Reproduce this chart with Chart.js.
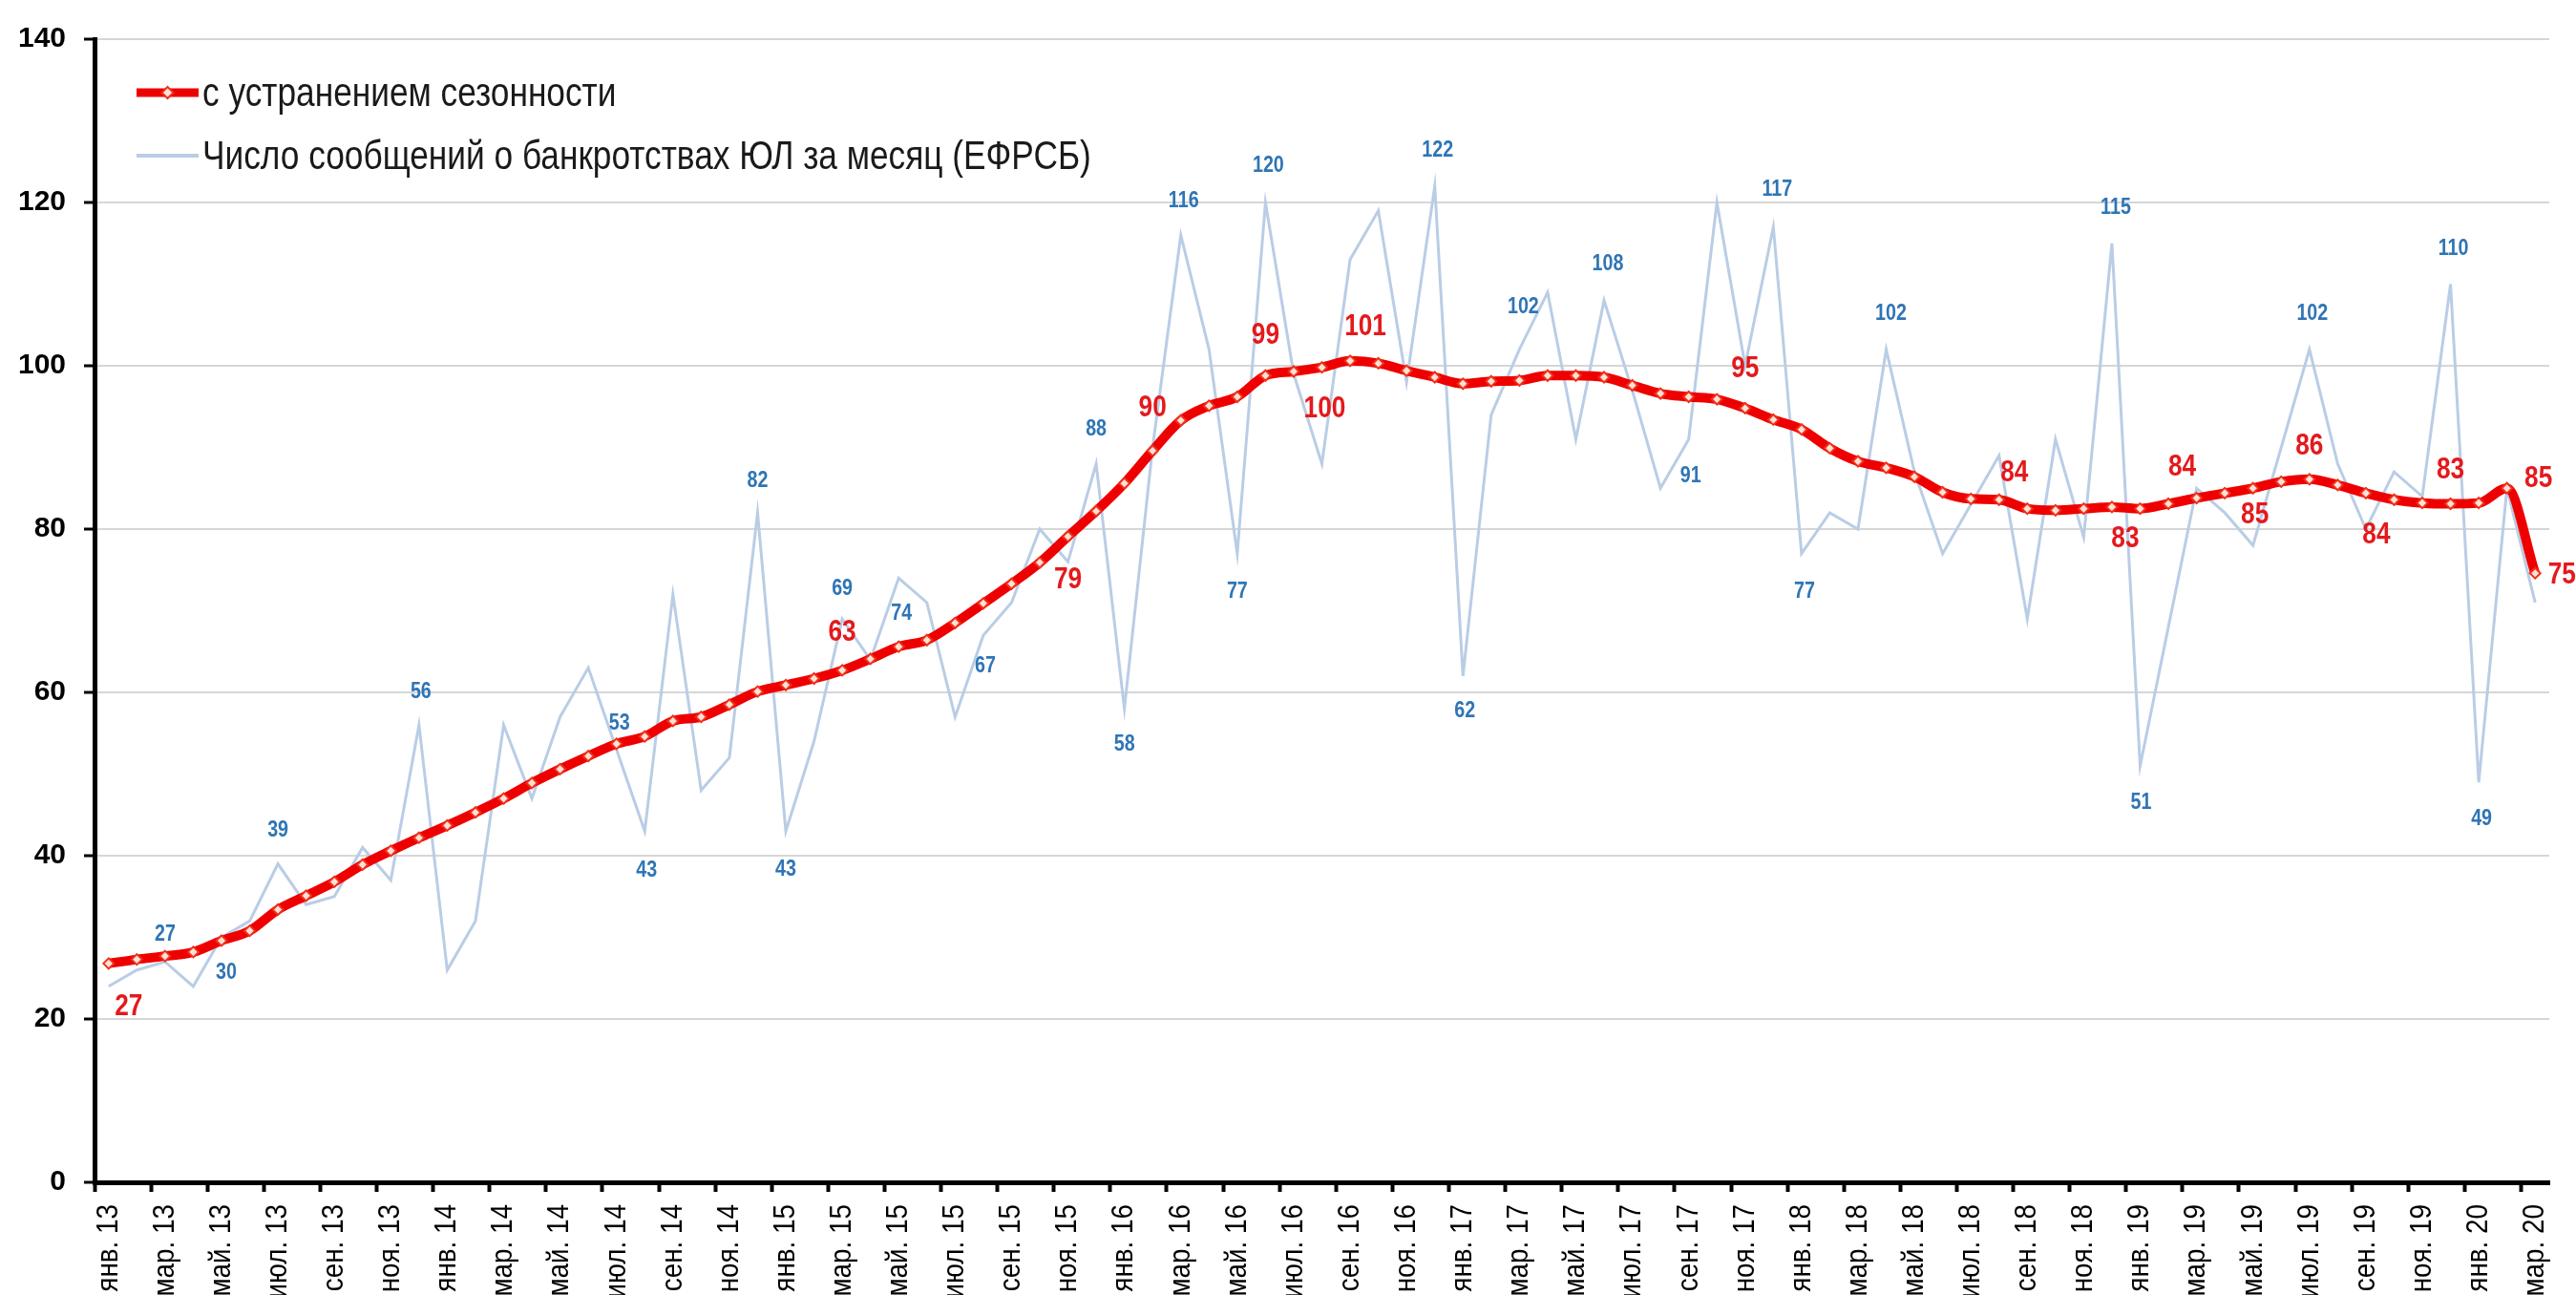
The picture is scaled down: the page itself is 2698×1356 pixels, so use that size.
<!DOCTYPE html>
<html>
<head>
<meta charset="utf-8">
<script src="https://cdn.jsdelivr.net/npm/chart.js@4.4.1/dist/chart.umd.min.js"></script>
<style>
  html, body { margin: 0; padding: 0; background: #fff; overflow: hidden; }
</style>
</head>
<body>
<canvas id="chart" width="2698" height="1356"></canvas>
<script>
// month labels, Jan 2013 .. Mar 2020
var monthNames = ['янв.', 'фев.', 'мар.', 'апр.', 'май.', 'июн.', 'июл.', 'авг.', 'сен.', 'окт.', 'ноя.', 'дек.'];
var years = ['13', '14', '15', '16', '17', '18', '19', '20'];
var monthCount = 87;

var seriesNames = [
    'с устранением сезонности',
    'Число сообщений о банкротствах ЮЛ за месяц (ЕФРСБ)'
];

// seasonally adjusted series
var adjusted = [
    26.8, 27.3, 27.7, 28.2, 29.6, 30.8, 33.4, 35.1, 36.8, 38.9, 40.6, 42.2,
    43.7, 45.3, 47.0, 48.9, 50.6, 52.2, 53.7, 54.6, 56.5, 57.0, 58.5, 60.1,
    60.9, 61.7, 62.7, 64.1, 65.6, 66.4, 68.5, 70.9, 73.3, 75.9, 79.1, 82.2,
    85.6, 89.6, 93.3, 95.1, 96.2, 98.8, 99.3, 99.8, 100.6, 100.3, 99.4, 98.6,
    97.8, 98.1, 98.2, 98.8, 98.8, 98.6, 97.6, 96.6, 96.2, 95.9, 94.8, 93.4,
    92.2, 89.9, 88.3, 87.5, 86.4, 84.5, 83.7, 83.6, 82.5, 82.3, 82.5, 82.7,
    82.5, 83.1, 83.8, 84.4, 85.0, 85.8, 86.1, 85.4, 84.4, 83.6, 83.2, 83.1,
    83.2, 85.0, 74.6
];

// raw monthly count
var monthly = [
    24, 26, 27, 24, 30, 32, 39, 34, 35, 41, 37, 56,
    26, 32, 56, 47, 57, 63, 53, 43, 72, 48, 52, 82,
    43, 54, 69, 64, 74, 71, 57, 67, 71, 80, 76, 88,
    58, 90, 116, 102, 77, 120, 99, 88, 113, 119, 98, 122,
    62, 94, 102, 109, 91, 108, 97, 85, 91, 120, 100, 117,
    77, 82, 80, 102, 87, 77, 83, 89, 69, 91, 79, 115,
    51, 68, 85, 82, 78, 90, 102, 88, 80, 87, 84, 110,
    49, 85, 71
];

// which points carry a value label: [index, dx, dy]
var adjustedLabels = [
    [0, 21, 45], [26, 0, -40], [34, 0, 45], [37, 0, -45], [41, 0, -42], [43, 3, 43],
    [44, 16, -36], [58, 0, -41], [67, 16, -28], [71, 14, 33], [74, -15, -32], [76, 2, 28],
    [78, 0, -35], [80, 11, 44], [83, 0, -35], [85, 33, -10], [86, 28, 2]
];
var monthlyLabels = [
    [2, 0, -29], [4, 5, 37], [6, 0, -35], [11, 2, -35], [18, 3, -27], [19, 2, 41],
    [23, 0, -34], [24, 0, 40], [26, 0, -32], [28, 3, 37], [31, 2, 32], [35, 0, -36],
    [36, 0, 37], [38, 3, -36], [40, 0, 40], [41, 3, -39], [47, 3, -38], [48, 2, 36],
    [50, 4, -45], [53, 4, -38], [56, 2, 38], [59, 4, -39], [60, 3, 40], [63, 5, -38],
    [71, 4, -37], [72, 1, 38], [78, 3, -38], [83, 3, -37], [84, 3, 38]
];

var categories = [];
for (var y = 0; y < years.length; y++) {
    for (var m = 0; m < 12 && categories.length < monthCount; m++) {
        categories.push(monthNames[m] + ' ' + years[y]);
    }
}

var RED = '#ee0000';
var BLUE_LINE = '#b9cde5';
var FONT = '"Liberation Sans", Arial, sans-serif';
var NARROW = 0.82;  // no Arial Narrow here, squeeze Liberation Sans instead

// text squeezed horizontally to look like a narrow face
function narrowText(ctx, text, x, y) {
    ctx.save();
    ctx.translate(x, y);
    ctx.scale(NARROW, 1);
    ctx.fillText(text, 0, 0);
    ctx.restore();
}

// Draw the value labels next to chosen points
var valueLabels = {
    id: 'valueLabels',
    afterDatasetsDraw: function(chart) {
        var ctx = chart.ctx;
        var sets = [
            { meta: chart.getDatasetMeta(1), data: monthly, list: monthlyLabels, font: 'bold 24px ' + FONT, color: '#2f75b5' },
            { meta: chart.getDatasetMeta(0), data: adjusted, list: adjustedLabels, font: 'bold 32px ' + FONT, color: '#e4191c' }
        ];
        ctx.save();
        ctx.textAlign = 'center';
        ctx.textBaseline = 'middle';
        sets.forEach(function(s) {
            ctx.font = s.font;
            ctx.fillStyle = s.color;
            s.list.forEach(function(l) {
                var pt = s.meta.data[l[0]];
                narrowText(ctx, String(Math.round(s.data[l[0]])), pt.x + l[1], pt.y + l[2]);
            });
        });
        ctx.restore();
    }
};

// Month labels under the x axis, every second month, rotated
var monthTicks = {
    id: 'monthTicks',
    afterDraw: function(chart) {
        var ctx = chart.ctx;
        var xs = chart.scales.x;
        ctx.save();
        ctx.font = '32px ' + FONT;
        ctx.fillStyle = '#000';
        ctx.textAlign = 'right';
        ctx.textBaseline = 'middle';
        for (var i = 0; i < categories.length; i += 2) {
            ctx.save();
            ctx.translate(xs.getPixelForValue(i), xs.top + 23);
            ctx.rotate(-Math.PI / 2);
            ctx.scale(0.87, 1);
            ctx.fillText(categories[i], 0, 0);
            ctx.restore();
        }
        ctx.restore();
    }
};

// Legend sits inside the plot, top left
var insideLegend = {
    id: 'insideLegend',
    afterDraw: function(chart) {
        var ctx = chart.ctx;
        var a = chart.chartArea;
        var x0 = a.left + 44, x1 = a.left + 109;
        var rows = [a.top + 56, a.top + 122];

        ctx.save();
        ctx.lineCap = 'butt';

        // red row
        ctx.strokeStyle = RED;
        ctx.lineWidth = 9;
        ctx.beginPath();
        ctx.moveTo(x0, rows[0]);
        ctx.lineTo(x1, rows[0]);
        ctx.stroke();
        var cx = (x0 + x1) / 2;
        ctx.fillStyle = '#ffe0d6';
        ctx.strokeStyle = '#f0301a';
        ctx.lineWidth = 2;
        ctx.beginPath();
        ctx.moveTo(cx, rows[0] - 6);
        ctx.lineTo(cx + 6, rows[0]);
        ctx.lineTo(cx, rows[0] + 6);
        ctx.lineTo(cx - 6, rows[0]);
        ctx.closePath();
        ctx.fill();
        ctx.stroke();

        // blue row
        ctx.strokeStyle = BLUE_LINE;
        ctx.lineWidth = 4;
        ctx.beginPath();
        ctx.moveTo(x0, rows[1]);
        ctx.lineTo(x1, rows[1]);
        ctx.stroke();

        ctx.font = '43px ' + FONT;
        ctx.fillStyle = '#1a1a1a';
        ctx.textAlign = 'left';
        ctx.textBaseline = 'middle';
        narrowText(ctx, seriesNames[0], x1 + 4, rows[0] + 2);
        narrowText(ctx, seriesNames[1], x1 + 4, rows[1] + 2);
        ctx.restore();
    }
};

var chart = new Chart(document.getElementById('chart'), {
    type: 'line',
    data: {
        labels: categories,
        datasets: [
            {
                label: seriesNames[0],
                data: adjusted,
                borderColor: RED,
                borderWidth: 10,
                cubicInterpolationMode: 'monotone',
                pointStyle: 'rectRot',
                pointRadius: 5.5,
                pointBorderWidth: 2,
                pointBackgroundColor: '#ffe0d6',
                pointBorderColor: '#f0301a',
                order: 0
            },
            {
                label: seriesNames[1],
                data: monthly,
                borderColor: BLUE_LINE,
                borderWidth: 3,
                pointRadius: 0,
                tension: 0,
                order: 1
            }
        ]
    },
    options: {
        responsive: false,
        animation: false,
        layout: { padding: { left: 0, right: 28, top: 41, bottom: 0 } },
        plugins: {
            legend: { display: false },
            tooltip: { enabled: false }
        },
        scales: {
            x: {
                offset: true,
                grid: {
                    offset: true,
                    drawOnChartArea: false,
                    drawTicks: true,
                    tickLength: 10,
                    tickWidth: 4,
                    tickColor: function(c) { return c.index % 2 === 0 ? '#000' : 'rgba(0,0,0,0)'; }
                },
                border: { color: '#000', width: 5 },
                ticks: { display: false, autoSkip: false },
                afterFit: function(scale) { scale.height = 1356 - 1238; }
            },
            y: {
                min: 0,
                max: 140,
                grid: {
                    color: '#d6d6d6',
                    lineWidth: 2,
                    tickLength: 11,
                    tickWidth: 3,
                    tickColor: '#000'
                },
                border: { color: '#000', width: 5 },
                ticks: {
                    stepSize: 20,
                    padding: 19,
                    color: '#000',
                    font: { family: FONT, size: 30, weight: 'bold' }
                },
                afterFit: function(scale) { scale.width = 99; }
            }
        }
    },
    plugins: [valueLabels, monthTicks, insideLegend]
});
</script>
</body>
</html>
